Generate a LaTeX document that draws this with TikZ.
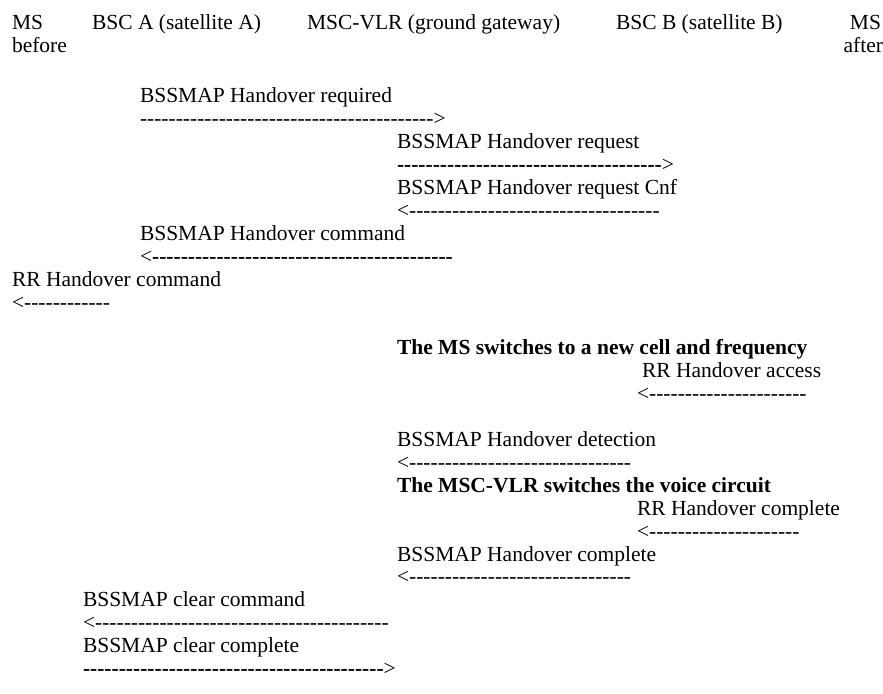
\documentclass[tikz,border=0pt]{standalone}
\usepackage{fontspec}
\setmainfont{Liberation Serif}
\newcommand\hyph[1]{\foreach \i in {1,...,#1}{-\kern0pt}}
\newcommand\bhyph[1]{\bfseries\foreach \i in {1,...,#1}{-\kern0pt}\mdseries}
\begin{document}
\begin{tikzpicture}[x=0.5pt,y=-0.5pt,
  txt/.style={anchor=base west,inner sep=0pt,outer sep=0pt,font=\fontsize{10.75}{12.9}\selectfont},
  txtr/.style={txt,anchor=base east},
  boldtxt/.style={txt,font=\fontsize{10.75}{12.9}\selectfont\bfseries}]
\useasboundingbox (0,0) rectangle (883,694);
% header
\node[txt] (msbefore) at (12,30) {MS};
\node[txt] (before) at (12,53) {before};
\node[txt] (bsca) at (92,30) {BSC A (satellite A)};
\node[txt] (msc) at (307,30) {MSC-VLR (ground gateway)};
\node[txt] (bscb) at (616,30) {BSC B (satellite B)};
\node[txtr] (msafter) at (881,30) {MS};
\node[txtr] (after) at (883,53) {after};
% messages
\node[txt] (m1) at (140,{103+22.9*0}) {BSSMAP Handover required};
\node[txt] (d1) at (140,{103+22.9*1}) {\hyph{41}>};
\node[txt] (m2) at (397,{103+22.9*2}) {BSSMAP Handover request};
\node[txt] (d2) at (397,{103+22.9*3}) {\bhyph{37}>};
\node[txt] (m3) at (397,{103+22.9*4}) {BSSMAP Handover request Cnf};
\node[txt] (d3) at (397,{103+22.9*5}) {<\hyph{35}};
\node[txt] (m4) at (140,{103+22.9*6}) {BSSMAP Handover command};
\node[txt] (d4) at (140,{103+22.9*7}) {<\bhyph{42}};
\node[txt] (m5) at (12,{103+22.9*8}) {RR Handover command};
\node[txt] (d5) at (12,{103+22.9*9}) {<\hyph{12}};
\node[boldtxt] (b1) at (397,{103+22.9*11}) {The MS switches to a new cell and frequency};
\node[txt] (m6) at (642,{103+22.9*12}) {RR Handover access};
\node[txt] (d6) at (637,{103+22.9*13}) {<\hyph{22}};
\node[txt] (m7) at (397,{103+22.9*15}) {BSSMAP Handover detection};
\node[txt] (d7) at (397,{103+22.9*16}) {<\hyph{31}};
\node[boldtxt] (b2) at (397,{103+22.9*17}) {The MSC-VLR switches the voice circuit};
\node[txt] (m8) at (637,{103+22.9*18}) {RR Handover complete};
\node[txt] (d8) at (637,{103+22.9*19}) {<\hyph{21}};
\node[txt] (m9) at (397,{103+22.9*20}) {BSSMAP Handover complete};
\node[txt] (d9) at (397,{103+22.9*21}) {<\hyph{31}};
\node[txt] (m10) at (83,{103+22.9*22}) {BSSMAP clear command};
\node[txt] (d10) at (83,{103+22.9*23}) {<\hyph{41}};
\node[txt] (m11) at (83,{103+22.9*24}) {BSSMAP clear complete};
\node[txt] (d11) at (83,{103+22.9*25}) {\bhyph{42}>};
\end{tikzpicture}
\end{document}
